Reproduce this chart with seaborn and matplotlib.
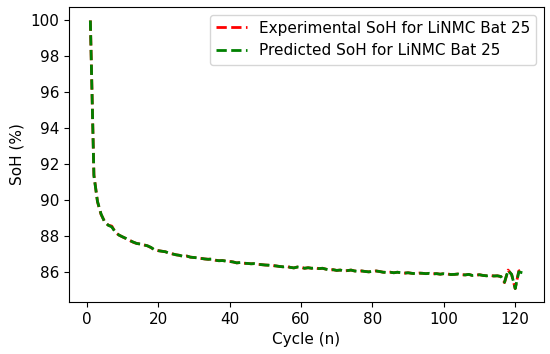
import numpy as np
import pandas as pd
import seaborn as sns
import matplotlib.pyplot as plt

cycles = list(range(1, 123))

soh_exp = [100.0, 91.4, 89.9, 89.2, 88.8, 88.6, 88.55, 88.2, 88.05, 87.95,
           87.85, 87.75, 87.65, 87.58, 87.55, 87.5, 87.45, 87.35, 87.22, 87.18,
           87.15, 87.12, 87.05, 87.0, 86.95, 86.92, 86.85, 86.88, 86.82, 86.8,
           86.78, 86.75, 86.72, 86.7, 86.72, 86.65, 86.62, 86.63, 86.6, 86.58,
           86.55, 86.5, 86.52, 86.48, 86.47, 86.45, 86.46, 86.42, 86.4, 86.38,
           86.37, 86.35, 86.33, 86.3, 86.28, 86.3, 86.25, 86.22, 86.27, 86.25,
           86.2, 86.23, 86.2, 86.22, 86.18, 86.2, 86.15, 86.1, 86.12, 86.08,
           86.1, 86.05, 86.07, 86.1, 86.05, 86.03, 86.05, 86.02, 86.0, 86.03,
           86.05, 86.02, 85.98, 85.97, 85.98, 85.95, 85.98, 85.95, 85.93, 85.95,
           85.92, 85.9, 85.93, 85.92, 85.9, 85.92, 85.89, 85.9, 85.87, 85.9,
           85.88, 85.85, 85.86, 85.88, 85.84, 85.83, 85.86, 85.8, 85.82, 85.84,
           85.8, 85.78, 85.8, 85.77, 85.78, 85.74, 85.4, 86.1, 85.85, 85.07,
           86.05, 86.12]

soh_pred = [100.0, 91.35, 89.92, 89.22, 88.78, 88.6, 88.5, 88.22, 88.05, 87.95,
            87.86, 87.75, 87.66, 87.58, 87.55, 87.5, 87.45, 87.36, 87.22, 87.18,
            87.15, 87.12, 87.05, 87.0, 86.95, 86.92, 86.86, 86.88, 86.82, 86.8,
            86.78, 86.75, 86.72, 86.7, 86.71, 86.65, 86.62, 86.63, 86.6, 86.58,
            86.55, 86.5, 86.52, 86.48, 86.47, 86.45, 86.46, 86.42, 86.4, 86.38,
            86.37, 86.35, 86.33, 86.3, 86.28, 86.3, 86.25, 86.22, 86.27, 86.25,
            86.2, 86.23, 86.2, 86.22, 86.18, 86.2, 86.15, 86.1, 86.12, 86.08,
            86.1, 86.05, 86.07, 86.1, 86.05, 86.03, 86.05, 86.02, 86.0, 86.03,
            86.05, 86.02, 85.98, 85.97, 85.98, 85.95, 85.98, 85.95, 85.93, 85.95,
            85.92, 85.9, 85.93, 85.92, 85.9, 85.92, 85.89, 85.9, 85.87, 85.9,
            85.88, 85.85, 85.86, 85.88, 85.84, 85.83, 85.86, 85.8, 85.82, 85.84,
            85.8, 85.78, 85.8, 85.77, 85.78, 85.74, 85.42, 86.08, 85.86, 85.07,
            86.0, 85.95]

df = pd.DataFrame({'Cycle': cycles, 'Exp': soh_exp, 'Pred': soh_pred})

plt.rcParams['font.family'] = ['DejaVu Sans']
plt.rcParams['font.size'] = 11

fig, ax = plt.subplots(figsize=(5.5, 3.54), dpi=100)
sns.lineplot(data=df, x='Cycle', y='Exp', color='red', linestyle='--', linewidth=2,
             label='Experimental SoH for LiNMC Bat 25', ax=ax)
sns.lineplot(data=df, x='Cycle', y='Pred', color='green', linestyle='--', linewidth=2,
             label='Predicted SoH for LiNMC Bat 25', ax=ax)

ax.set_xlabel('Cycle (n)')
ax.set_ylabel('SoH (%)')
ax.set_yticks([86, 88, 90, 92, 94, 96, 98, 100])
ax.set_xticks([0, 20, 40, 60, 80, 100, 120])
ax.legend(loc='upper right', fontsize=11)

plt.subplots_adjust(left=0.125, right=0.989, bottom=0.147, top=0.98)
plt.savefig('out.png', dpi=100)
